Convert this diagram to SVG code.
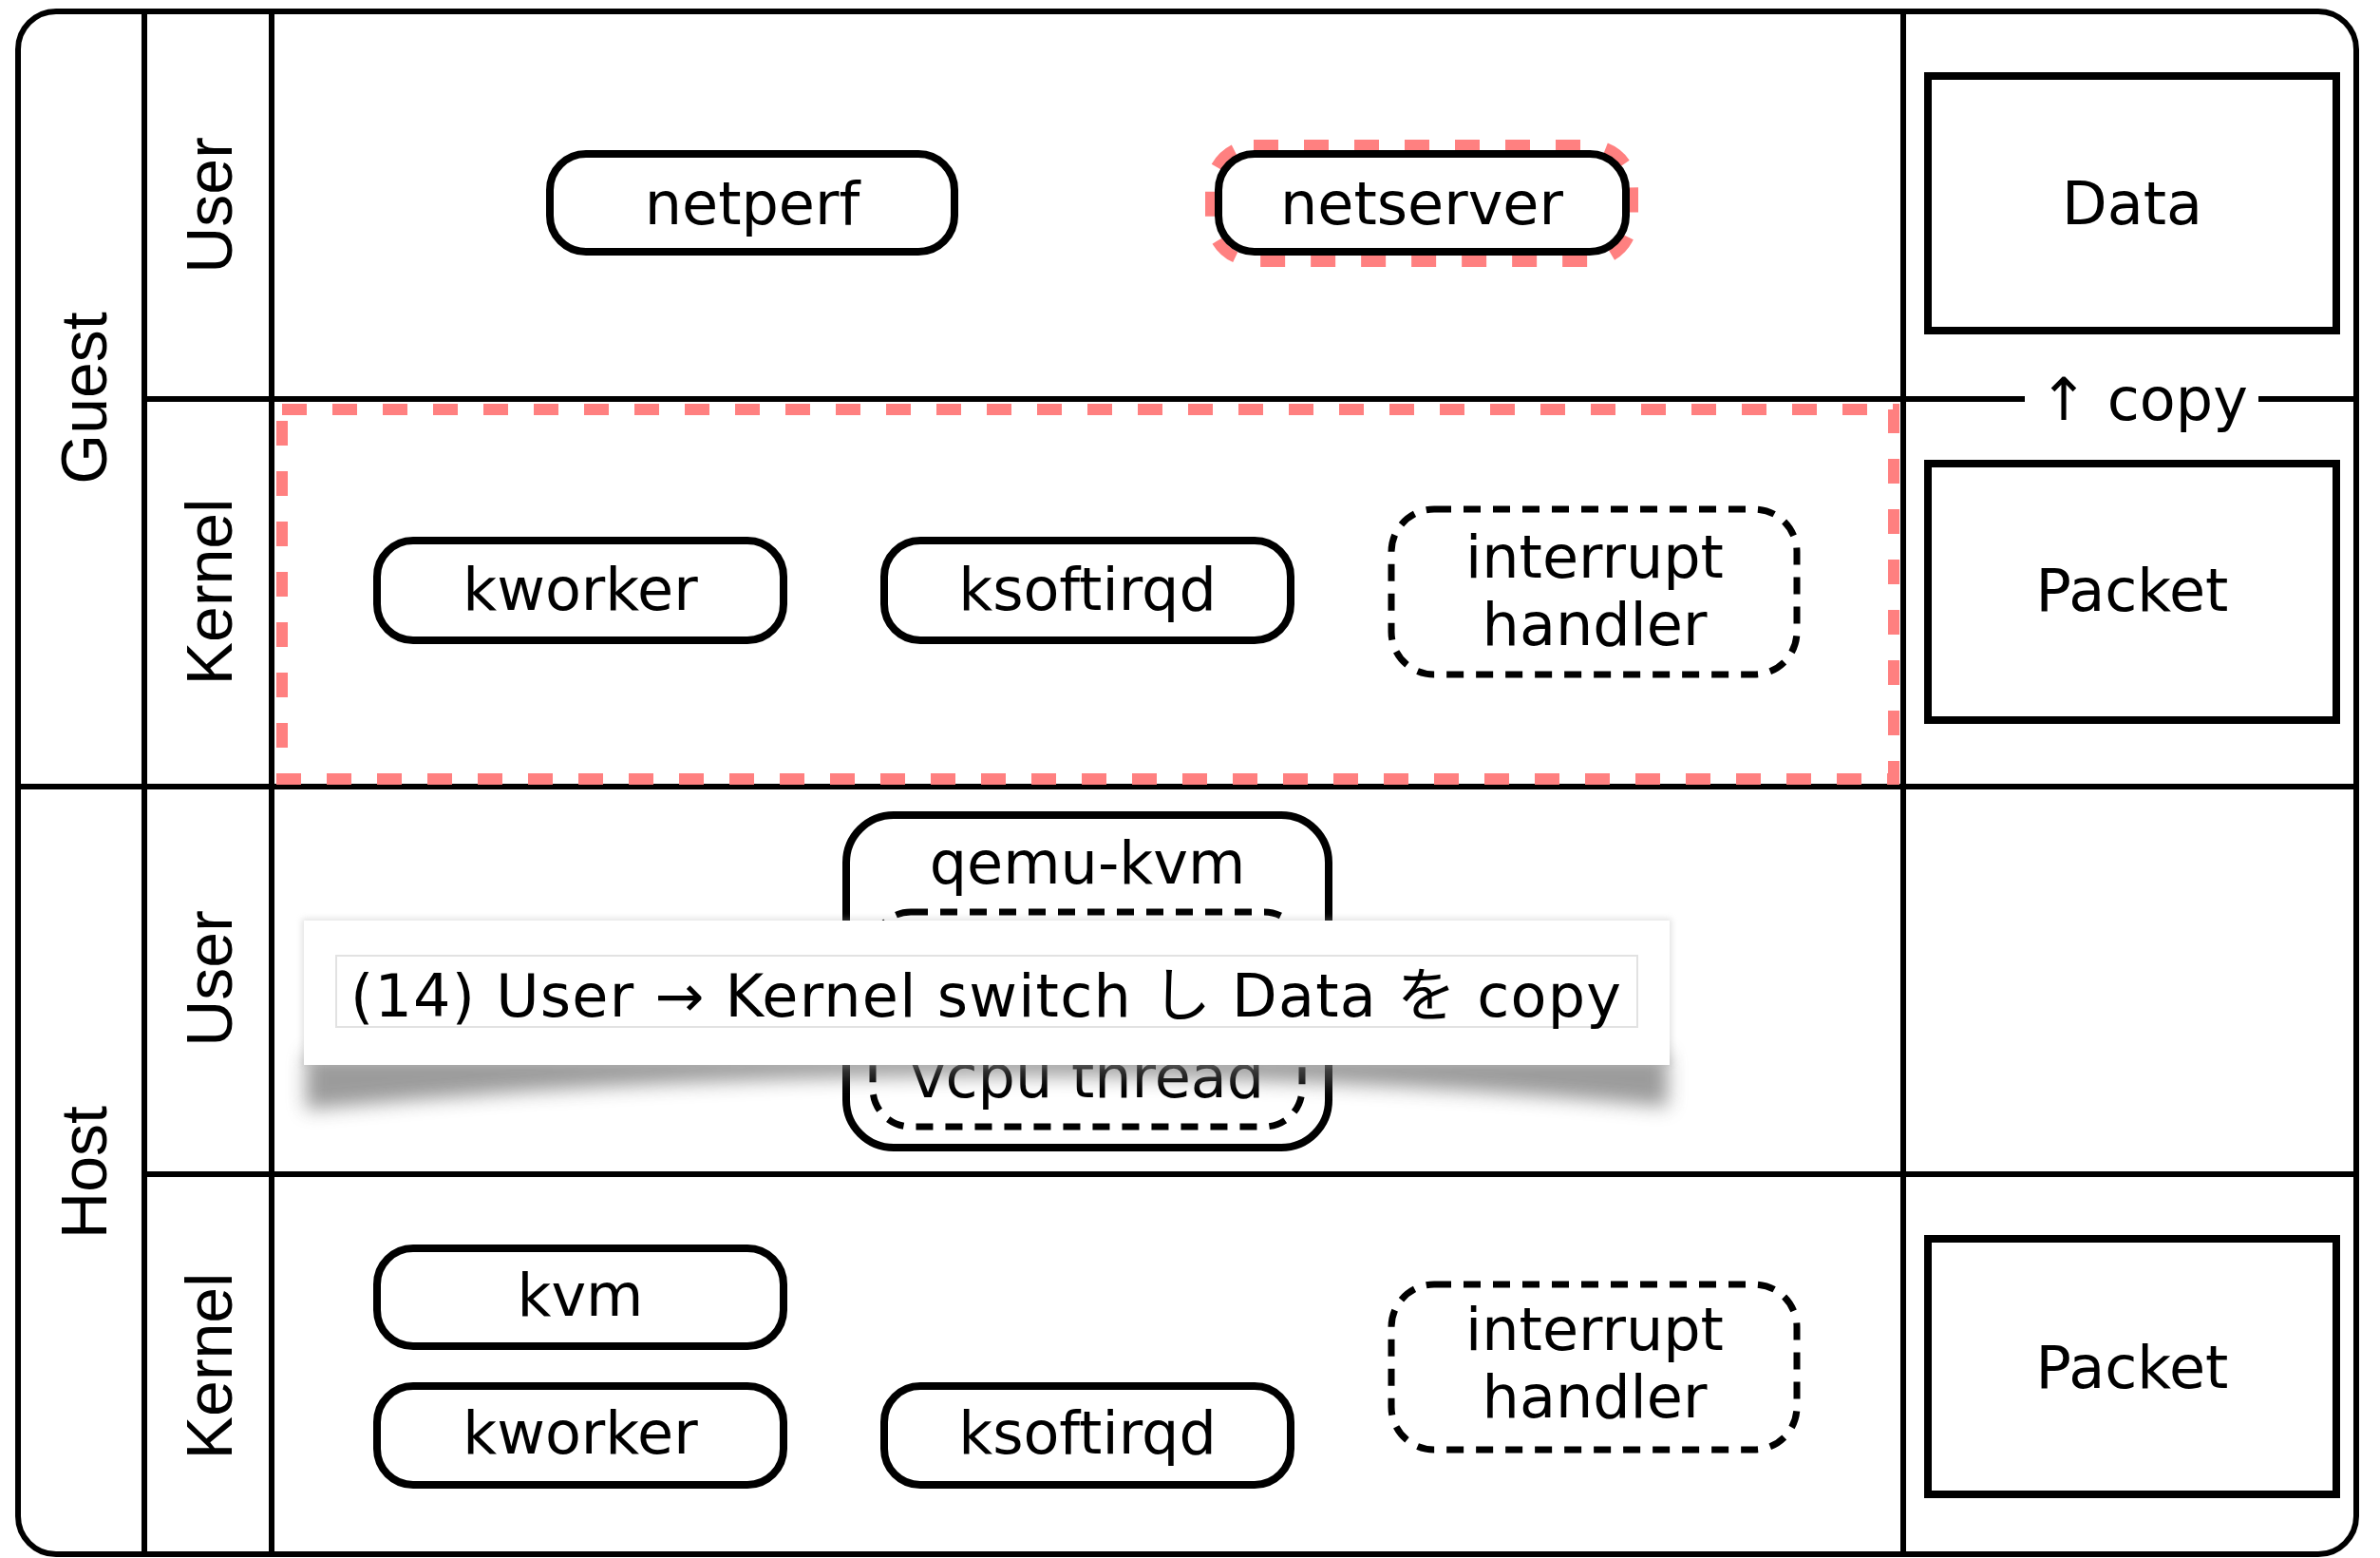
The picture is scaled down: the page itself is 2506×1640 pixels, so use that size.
<svg xmlns="http://www.w3.org/2000/svg" width="2506" height="1640" viewBox="0 0 2506 1640">
<style>
.grid{stroke:#000;stroke-width:6;fill:none}
.lbl{font-family:"Liberation Sans",Arial,sans-serif;font-size:68px;fill:#000;text-anchor:middle}
.t{font-family:"DejaVu Sans","Noto Sans CJK JP",sans-serif;font-size:62px;fill:#000;text-anchor:middle}
.node{fill:#fff;stroke:#000;stroke-width:8}
.dnode{fill:none;stroke:#000;stroke-width:7;stroke-dasharray:18 13}
.box{fill:#fff;stroke:#000;stroke-width:8}
.red{fill:none;stroke:#ff8080;stroke-width:12;stroke-dasharray:26 27}
</style>
<defs>
<filter id="blur" x="-10%" y="-50%" width="120%" height="200%"><feGaussianBlur stdDeviation="10"/></filter>
<filter id="blur2" x="-10%" y="-50%" width="120%" height="200%"><feGaussianBlur stdDeviation="3"/></filter>
</defs>
<rect width="2506" height="1640" fill="#fff"/>

<g id="frame" class="grid">
<rect x="19" y="12" width="2462" height="1624" rx="40"/>
<line x1="152" y1="12" x2="152" y2="1636"/>
<line x1="286" y1="12" x2="286" y2="1636"/>
<line x1="2004" y1="12" x2="2004" y2="1636"/>
<line x1="152" y1="420" x2="2132" y2="420"/>
<line x1="2378" y1="420" x2="2481" y2="420"/>
<line x1="19" y1="828" x2="2481" y2="828"/>
<line x1="152" y1="1236" x2="2481" y2="1236"/>
</g>

<g id="labels">
<text class="lbl" transform="translate(112,419) rotate(-90)">Guest</text>
<text class="lbl" transform="translate(112,1234) rotate(-90)">Host</text>
<text class="lbl" transform="translate(244,216) rotate(-90)">User</text>
<text class="lbl" transform="translate(244,623) rotate(-90)">Kernel</text>
<text class="lbl" transform="translate(244,1030) rotate(-90)">User</text>
<text class="lbl" transform="translate(244,1438) rotate(-90)">Kernel</text>
</g>

<g id="guest-kernel-highlight">
<rect class="red" x="297" y="431" width="1697" height="389"/>
</g>

<g id="netperf">
<rect class="node" x="579" y="162" width="426" height="103" rx="38"/>
<text class="t" x="792" y="236">netperf</text>
</g>

<g id="netserver">
<rect class="red" x="1275" y="153" width="444" height="122" rx="45"/>
<rect class="node" x="1283" y="162" width="429" height="103" rx="38"/>
<text class="t" x="1497" y="236">netserver</text>
</g>

<g id="guest-kworker">
<rect class="node" x="397" y="569" width="428" height="105" rx="38"/>
<text class="t" x="611" y="642">kworker</text>
</g>

<g id="guest-ksoftirqd">
<rect class="node" x="931" y="569" width="428" height="105" rx="38"/>
<text class="t" x="1145" y="642">ksoftirqd</text>
</g>

<g id="guest-interrupt-handler">
<rect class="dnode" x="1465" y="536" width="427" height="174" rx="45"/>
<text class="t" x="1679" y="608">interrupt</text>
<text class="t" x="1679" y="679">handler</text>
</g>

<g id="data">
<rect class="box" x="2030" y="80" width="430" height="268"/>
<text class="t" x="2245" y="236">Data</text>
</g>

<g id="connectors">
<text class="t" x="2257" y="442">↑ copy</text>
</g>

<g id="guest-packet">
<rect class="box" x="2030" y="488" width="430" height="270"/>
<text class="t" x="2245" y="643">Packet</text>
</g>

<g id="qemu-kvm">
<rect class="node" x="891" y="858" width="508" height="350" rx="50"/>
<text class="t" x="1145" y="930">qemu-kvm</text>
<g id="vcpu-thread">
<rect class="dnode" x="919" y="960" width="452" height="226" rx="40"/>
<text class="t" x="1145" y="1155">vcpu thread</text>
</g>
</g>

<g id="kvm">
<rect class="node" x="397" y="1314" width="428" height="103" rx="38"/>
<text class="t" x="611" y="1385">kvm</text>
</g>

<g id="host-kworker">
<rect class="node" x="397" y="1459" width="428" height="104" rx="38"/>
<text class="t" x="611" y="1530">kworker</text>
</g>

<g id="host-ksoftirqd">
<rect class="node" x="931" y="1459" width="428" height="104" rx="38"/>
<text class="t" x="1145" y="1530">ksoftirqd</text>
</g>

<g id="host-interrupt-handler">
<rect class="dnode" x="1465" y="1352" width="427" height="174" rx="45"/>
<text class="t" x="1679" y="1421">interrupt</text>
<text class="t" x="1679" y="1492">handler</text>
</g>

<g id="host-packet">
<rect class="box" x="2030" y="1304" width="430" height="269"/>
<text class="t" x="2245" y="1461">Packet</text>
</g>

<g id="callout">
<path d="M322,1110 L1756,1110 L1756,1165 Q1040,1098 322,1168 Z" fill="#666" opacity="0.65" filter="url(#blur)"/>
<rect x="318" y="967" width="1442" height="156" fill="#aaa" opacity="0.35" filter="url(#blur2)"/>
<rect x="320" y="969" width="1438" height="152" fill="#fff"/>
<rect x="354" y="1006" width="1370" height="75" fill="#fff" stroke="#e2e2e2" stroke-width="2"/>
<text class="t" x="369" y="1070" style="text-anchor:start" textLength="1338" lengthAdjust="spacing">(14) User → Kernel switch し Data を copy</text>
</g>
</svg>
